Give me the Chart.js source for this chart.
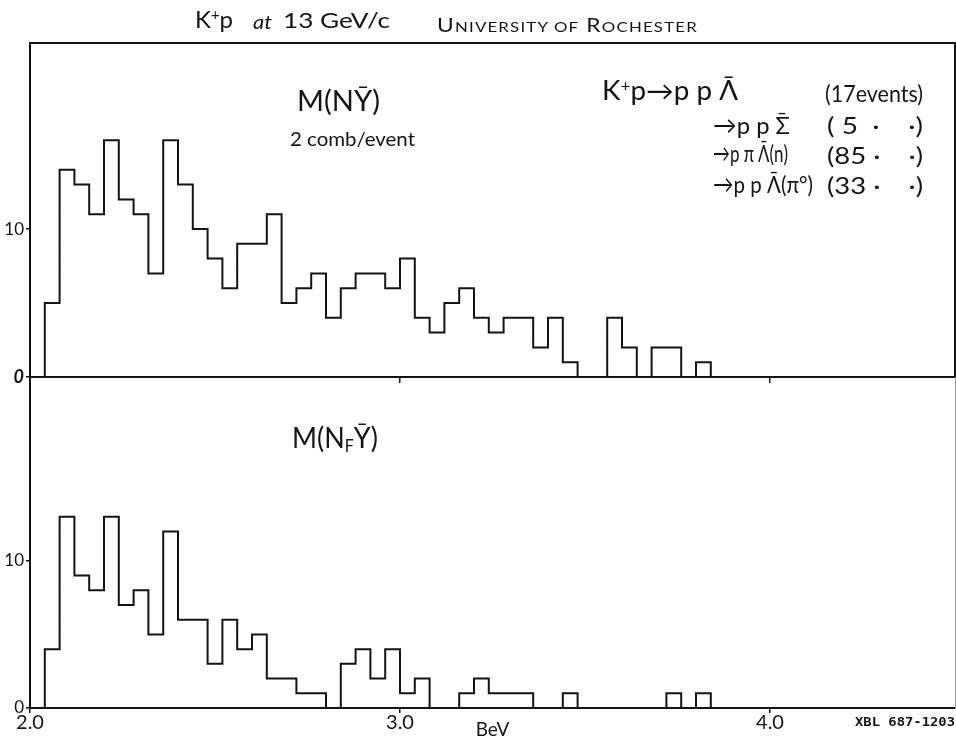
<!DOCTYPE html>
<html>
<head>
<meta charset="utf-8">
<script src="https://cdn.jsdelivr.net/npm/chart.js@4.4.1/dist/chart.umd.min.js"></script>
<style>
  html, body { margin: 0; padding: 0; background: #fff; }
  #wrap { position: relative; width: 956px; height: 741px; overflow: hidden; background: #fff; }
  #wrap canvas { position: absolute; left: 0; top: 0; }
  .t { position: absolute; white-space: nowrap; line-height: 1; color: #141414;
       font-family: Lato, "DejaVu Sans", sans-serif; transform-origin: 0 50%;
       transform: translateY(-50%); }
  .t sup { font-size: 0.62em; vertical-align: 0.55em; line-height: 0; }
  .t sub { font-size: 0.6em; vertical-align: -0.25em; line-height: 0; }
  .t small { font-size: 0.74em; }
  .mono { font-family: "DejaVu Sans Mono", "Liberation Mono", monospace; font-weight: bold; }
</style>
</head>
<body>
<div id="wrap">
  <canvas id="upper" width="956" height="741"></canvas>
  <canvas id="lower" width="956" height="741"></canvas>

  <!-- heading -->
  <div class="t fit" data-w="38" style="left:195px;top:19px;font-size:24px">K<sup>+</sup>p</div>
  <div class="t fit" data-w="19" style="left:253px;top:21px;font-size:20px;font-style:italic">at</div>
  <div class="t fit" data-w="107" style="left:283px;top:19px;font-size:21px">13 GeV/c</div>
  <div class="t fit" data-w="261" style="left:437px;top:25px;font-size:19px;letter-spacing:1px">U<small>NIVERSITY OF</small> R<small>OCHESTER</small></div>

  <!-- upper panel notes -->
  <div class="t fit" data-w="83" style="left:297px;top:100px;font-size:28px">M(NȲ)</div>
  <div class="t fit" data-w="125" style="left:290px;top:138px;font-size:20px">2 comb/event</div>

  <div class="t fit" data-w="136" style="left:602px;top:90px;font-size:26px">K<sup>+</sup>p→p p Λ̄</div>
  <div class="t fit" data-w="98" style="left:825px;top:93px;font-size:24px">(17events)</div>
  <div class="t fit" data-w="77" style="left:713px;top:125px;font-size:24px">→p p Σ̄</div>
  <div class="t fit" data-w="96" style="left:827px;top:125px;font-size:24px">(&nbsp;5&nbsp;&nbsp;·&nbsp;&nbsp;&nbsp;&nbsp;·)</div>
  <div class="t fit" data-w="75" style="left:713px;top:153px;font-size:24px">→p π Λ̄(n)</div>
  <div class="t fit" data-w="96" style="left:827px;top:155px;font-size:24px">(85&nbsp;·&nbsp;&nbsp;&nbsp;&nbsp;·)</div>
  <div class="t fit" data-w="100" style="left:713px;top:184px;font-size:24px">→p p Λ̄(π°)</div>
  <div class="t fit" data-w="96" style="left:827px;top:185px;font-size:24px">(33&nbsp;·&nbsp;&nbsp;&nbsp;&nbsp;·)</div>

  <!-- lower panel note -->
  <div class="t fit" data-w="86" style="left:292px;top:437px;font-size:28px">M(N<sub>F</sub>Ȳ)</div>

  <div class="t fit mono" data-w="100" style="left:855px;top:722px;font-size:12px">XBL 687-1203</div>
</div>

<script>
// Invariant-mass bins (lower edge of each bin, BeV); every bin is BIN_WIDTH wide
const binLow = [2.04, 2.08, 2.12, 2.16, 2.20, 2.24, 2.28, 2.32, 2.36, 2.40,
                2.44, 2.48, 2.52, 2.56, 2.60, 2.64, 2.68, 2.72, 2.76, 2.80,
                2.84, 2.88, 2.92, 2.96, 3.00, 3.04, 3.08, 3.12, 3.16, 3.20,
                3.24, 3.28, 3.32, 3.36, 3.40, 3.44, 3.48, 3.52, 3.56, 3.60,
                3.64, 3.68, 3.72, 3.76, 3.80];
const BIN_WIDTH = 0.04;

// M(N Ybar), two combinations per event
const countsNY = [5, 14, 13, 11, 16, 12, 11, 7, 16, 13,
                  10, 8, 6, 9, 9, 11, 5, 6, 7, 4,
                  6, 7, 7, 6, 8, 4, 3, 5, 6, 4,
                  3, 4, 4, 2, 4, 1, 0, 0, 4, 2,
                  0, 2, 2, 0, 1];

// M(N_F Ybar), forward nucleon only
const countsNFY = [4, 13, 9, 8, 13, 7, 8, 5, 12, 6,
                   6, 3, 6, 4, 5, 2, 2, 1, 1, 0,
                   3, 4, 2, 4, 1, 2, 0, 0, 1, 2,
                   1, 1, 1, 0, 0, 1, 0, 0, 0, 0,
                   0, 0, 1, 0, 1];

// Axis ticks
const xTickValues = [2, 3, 4];
const xTickLabels = ['2.0', '3.0', '4.0'];
const yTickValues = [0, 10];
const yTickLabels = ['0', '10'];

// ---------------------------------------------------------------
const INK = '#141414';
const X_MIN = 2.0, X_MAX = 4.5;
const HAND = 'Lato, "DejaVu Sans", sans-serif';

// Outline of a histogram as a stepped line through the bin edges
function histogramOutline(lows, counts, width) {
  const pts = [{ x: lows[0], y: 0 }];
  lows.forEach((lo, i) => pts.push({ x: lo, y: counts[i] }));
  pts.push({ x: lows[lows.length - 1] + width, y: 0 });
  return pts;
}

function histDataset(label, counts) {
  return {
    label,
    data: histogramOutline(binLow, counts, BIN_WIDTH),
    stepped: 'before',
    borderColor: INK,
    borderWidth: 2,
    pointRadius: 0,
    fill: false,
    tension: 0
  };
}

const setXTicks = s => { s.ticks = xTickValues.map(v => ({ value: v })); };
const setYTicks = s => { s.ticks = yTickValues.map(v => ({ value: v })); };

function yAxis(max, fontFor) {
  return {
    type: 'linear', position: 'left', min: 0, max,
    afterBuildTicks: setYTicks,
    afterFit: s => { s.width = 30; },
    ticks: {
      padding: 2, color: INK,
      font: fontFor,
      callback: v => yTickLabels[yTickValues.indexOf(v)]
    },
    grid: { display: true, drawOnChartArea: false, drawTicks: true, tickLength: 4, color: INK, lineWidth: 1.5 },
    border: { display: true, color: INK, width: 2 }
  };
}

function frameAxis(pos, extra) {
  return Object.assign({
    type: 'linear', position: pos, min: 0, max: 1,
    ticks: { display: false },
    grid: { display: false },
    border: { display: true, color: INK, width: 2 },
    afterFit: s => { if (pos === 'top' || pos === 'bottom') s.height = 0; else s.width = 0; }
  }, extra || {});
}

const baseOptions = {
  responsive: false,
  animation: false,
  devicePixelRatio: 1,
  plugins: { legend: { display: false }, tooltip: { enabled: false } }
};

// Upper panel: M(N Ybar)
new Chart(document.getElementById('upper'), {
  type: 'line',
  data: { datasets: [histDataset('M(NȲ)', countsNY)] },
  options: Object.assign({}, baseOptions, {
    layout: { padding: { top: 43, right: 1, left: 0, bottom: 0 } },
    scales: {
      x: {
        type: 'linear', position: 'bottom', min: X_MIN, max: X_MAX,
        afterBuildTicks: setXTicks,
        afterFit: s => { s.height = 741 - 377; },
        ticks: { display: false },
        grid: { display: true, drawOnChartArea: false, drawTicks: true, tickLength: 6, color: INK, lineWidth: 1.5 },
        border: { display: true, color: INK, width: 2 }
      },
      xTop: frameAxis('top', { min: X_MIN, max: X_MAX }),
      y: yAxis(22.57, c => (c.tick && c.tick.value === 0)
        ? { family: HAND, size: 18, weight: 'bold', style: 'italic' }
        : { family: HAND, size: 17 }),
      yRight: frameAxis('right', { max: 22.57 })
    }
  })
});

// Lower panel: M(N_F Ybar)
new Chart(document.getElementById('lower'), {
  type: 'line',
  data: { datasets: [histDataset('M(N_F Ȳ)', countsNFY)] },
  options: Object.assign({}, baseOptions, {
    layout: { padding: { top: 377, right: 1, left: 0, bottom: 0 } },
    scales: {
      x: {
        type: 'linear', position: 'bottom', min: X_MIN, max: X_MAX,
        afterBuildTicks: setXTicks,
        afterFit: s => { s.height = 33; },
        ticks: {
          padding: 0, color: INK, maxRotation: 0,
          font: { family: HAND, size: 20, lineHeight: 1 },
          callback: v => xTickLabels[xTickValues.indexOf(v)]
        },
        grid: { display: true, drawOnChartArea: false, drawTicks: true, tickLength: 5, color: INK, lineWidth: 1.5 },
        border: { display: true, color: INK, width: 2 },
        title: { display: true, text: 'BeV', color: INK, font: { family: HAND, size: 19 }, padding: { top: 0, bottom: 0 } }
      },
      y: yAxis(22.5, { family: HAND, size: 17 }),
      yRight: frameAxis('right', { max: 22.5, border: { display: true, color: '#9a9a9a', width: 1, dash: [2, 9] } })
    }
  })
});

// Squeeze or stretch each note so it spans its intended width
function fitNotes() {
  document.querySelectorAll('.fit').forEach(el => {
    el.style.transform = 'translateY(-50%)';
    const target = parseFloat(el.dataset.w);
    const actual = el.getBoundingClientRect().width;
    if (actual > 0) el.style.transform = 'translateY(-50%) scaleX(' + (target / actual).toFixed(3) + ')';
  });
}
fitNotes();
if (document.fonts && document.fonts.ready) document.fonts.ready.then(fitNotes);
</script>
</body>
</html>
